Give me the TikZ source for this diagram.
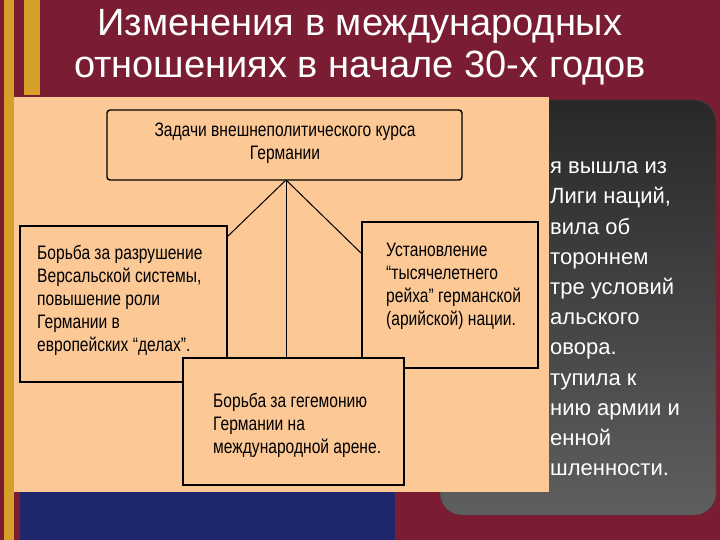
\documentclass[tikz,border=0pt]{standalone}
\usepackage{fontspec}
\setmainfont{Liberation Sans}
\newfontfamily\cond[FakeStretch=0.8]{Liberation Sans}
\begin{document}
\begin{tikzpicture}[x=1pt,y=-1pt,
  bx/.style={draw=black,line width=1.4pt,fill={rgb,255:red,251;green,200;blue,150}},
  bt/.style={font=\cond\fontsize{19.5}{23}\selectfont,align=left,anchor=north west,text=black,inner sep=0},
  st/.style={font=\fontsize{22}{30}\selectfont,text=white,anchor=base west,inner sep=0},
  ln/.style={draw=black,line width=1pt}]
\useasboundingbox (0,0) rectangle (720,540);
\fill[fill={rgb,255:red,122;green,28;blue,50}] (0,0) rectangle (720,540);
\fill[fill={rgb,255:red,214;green,160;blue,40}] (4,0) rectangle (14,540);
\fill[fill={rgb,255:red,214;green,160;blue,40}] (24,0) rectangle (40,95);
\fill[fill={rgb,255:red,30;green,38;blue,110}] (20,490) rectangle (395,540);
\shade[top color={rgb,255:red,40;green,40;blue,40},bottom color={rgb,255:red,95;green,95;blue,95},rounded corners=22pt,draw={rgb,255:red,70;green,70;blue,70}] (440,100) rectangle (716,515);
\fill[fill={rgb,255:red,251;green,200;blue,150}] (14,97) rectangle (549,492);
\node[st] (s1) at (550,174) {я вышла из};
\node[st] (s2) at (550,204) {Лиги наций,};
\node[st] (s3) at (550,234) {вила об};
\node[st] (s4) at (550,264) {тороннем};
\node[st] (s5) at (550,294) {тре условий};
\node[st] (s6) at (550,324) {альского};
\node[st] (s7) at (550,354) {овора.};
\node[st] (s8) at (550,385) {тупила к};
\node[st] (s9) at (550,415) {нию армии и};
\node[st] (s10) at (550,445) {енной};
\node[st] (s11) at (550,475) {шленности.};
\node[font=\fontsize{38}{42}\selectfont,text=white,align=center] (title) at (360,47) {Изменения в международных\\отношениях в начале 30-х годов};
\draw[bx,rounded corners=3pt] (107,110) rectangle (462,180);
\node[font=\cond\fontsize{19.5}{23}\selectfont,align=center,inner sep=0] (top) at (285,143) {Задачи внешнеполитического курса\\Германии};
\coordinate (t) at (286,180);
\draw[bx] (20,226) rectangle (227,382);
\node[bt] (l) at (37,245) {Борьба за разрушение\\Версальской системы,\\повышение роли\\Германии в\\европейских “делах”.};
\draw[bx] (362,222) rectangle (538,368);
\node[bt] (r) at (386,243) {Установление\\“тысячелетнего\\рейха” германской\\(арийской) нации.};
\draw[bx] (183,358) rectangle (404,485);
\node[bt] (b) at (213,393) {Борьба за гегемонию\\Германии на\\международной арене.};
\draw[ln] (t) -- (227,237);
\draw[ln] (t) -- (286,358);
\draw[ln] (t) -- (362,254);
\end{tikzpicture}
\end{document}
